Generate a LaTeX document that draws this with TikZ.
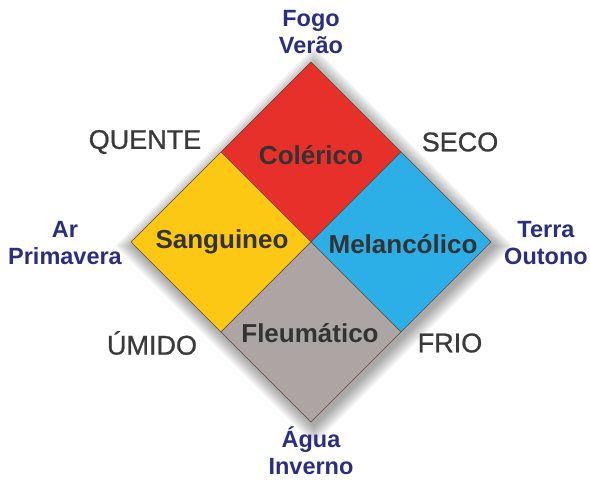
\documentclass[tikz,border=0pt]{standalone}
\usepackage{fontspec}
\setmainfont{Liberation Sans}
\newfontfamily\qualfont[FakeBold=0.9]{Liberation Sans}
\usetikzlibrary{positioning}
\definecolor{colred}{HTML}{E8302A}
\definecolor{sangyellow}{HTML}{FCC813}
\definecolor{melblue}{HTML}{2CAEE6}
\definecolor{fleugray}{HTML}{ADA5A3}
\definecolor{humortext}{HTML}{333333}
\definecolor{elemblue}{HTML}{2B2E80}
\definecolor{qualgray}{HTML}{3A3A3A}
\definecolor{edgebrown}{HTML}{5A4A3A}
\tikzset{
  humor/.style={font=\fontsize{26}{30}\selectfont\bfseries, text=humortext},
  elemento/.style={font=\fontsize{23.5}{27}\selectfont\bfseries, text=elemblue, align=center},
  qualidade/.style={font=\qualfont\fontsize{27}{30}\selectfont, text=qualgray},
  quadro/.style={draw=edgebrown, line width=0.6pt, line join=round},
}
\begin{document}
\begin{tikzpicture}[x=1pt,y=1pt]
    \useasboundingbox (0,0) rectangle (590,484);
    % soft shadow
    \foreach \r in {181,183,...,199}
      \fill[black, opacity=0.04] (314,238+\r) -- (314+\r,238) -- (314,238-\r) -- (314-\r,238) -- cycle;
    % corners of the big square
    \coordinate (C) at (311,242);
    \coordinate (N) at (311,422);
    \coordinate (S) at (311,62);
    \coordinate (W) at (131,242);
    \coordinate (E) at (491,242);
    \coordinate (NW) at (221,332);
    \coordinate (NE) at (401,332);
    \coordinate (SW) at (221,152);
    \coordinate (SE) at (401,152);
    \filldraw[quadro, fill=colred] (N) -- (NE) -- (C) -- (NW) -- cycle;
    \filldraw[quadro, fill=sangyellow] (NW) -- (C) -- (SW) -- (W) -- cycle;
    \filldraw[quadro, fill=melblue] (NE) -- (E) -- (SE) -- (C) -- cycle;
    \filldraw[quadro, fill=fleugray] (C) -- (SE) -- (S) -- (SW) -- cycle;
    % humores
    \node[humor] (colerico) at (311,329) {Colérico};
    \node[humor] (sanguineo) at (222,242) {Sanguineo};
    \node[humor] (melancolico) at (403,240) {Melancólico};
    \node[humor] (fleumatico) at (310,151) {Fleumático};
    % elementos e estacoes
    \node[elemento] (fogo) at (311,452) {Fogo\\Verão};
    \node[elemento] (ar) at (65,241) {Ar\\Primavera};
    \node[elemento] (terra) at (546,241) {Terra\\Outono};
    \node[elemento] (agua) at (311,33) {Água\\Inverno};
    % qualidades
    \node[qualidade] (quente) at (145,342) {QUENTE};
    \node[qualidade] (seco) at (460,342) {SECO};
    \node[qualidade] (umido) at (152,141) {ÚMIDO};
    \node[qualidade] (frio) at (450,141) {FRIO};
\end{tikzpicture}
\end{document}
